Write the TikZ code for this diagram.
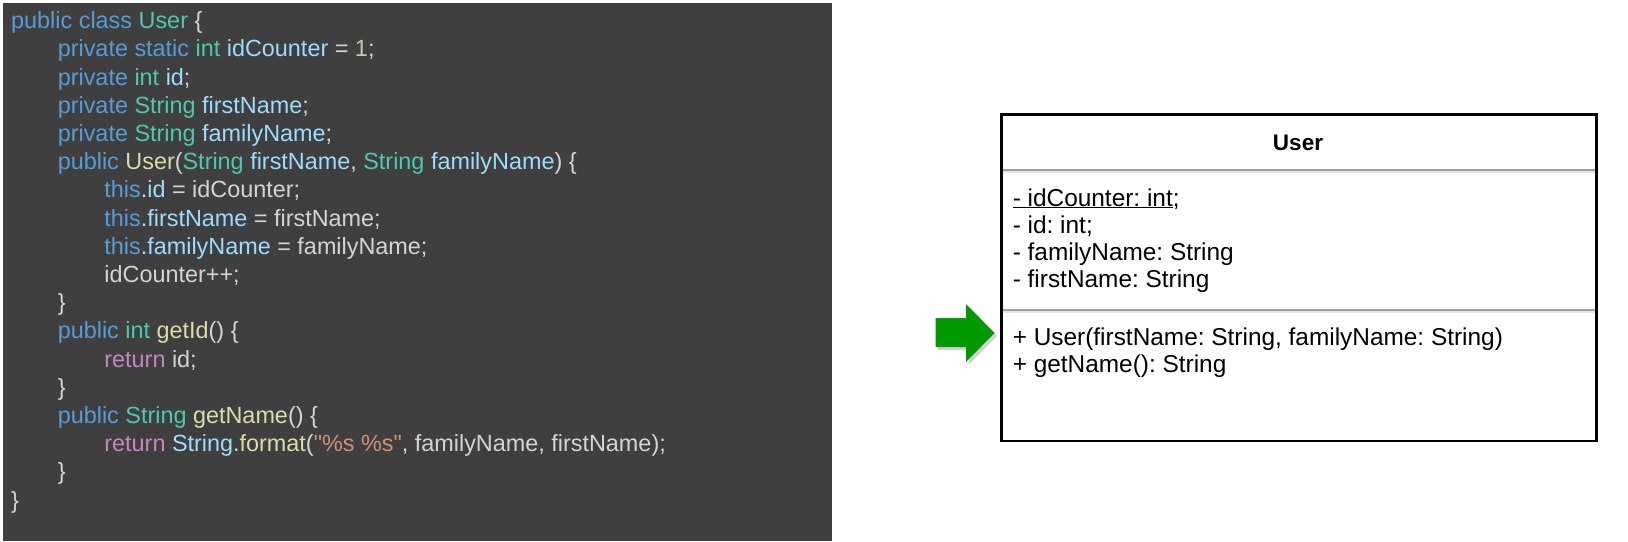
\documentclass[tikz,border=0pt]{standalone}
\usepackage{fontspec}
\setmainfont{Liberation Sans}[Ligatures=TeXOff]
\frenchspacing
\usetikzlibrary{calc}
\definecolor{codebg}{HTML}{3F3F3F}
\definecolor{ckw}{HTML}{569CD6}
\definecolor{cty}{HTML}{4EC9B0}
\definecolor{cva}{HTML}{9CDCFE}
\definecolor{cfn}{HTML}{DCDCAA}
\definecolor{cnu}{HTML}{B5CEA8}
\definecolor{crt}{HTML}{C586C0}
\definecolor{cst}{HTML}{CE9178}
\definecolor{ctxt}{HTML}{D4D4D4}
\definecolor{arrowgreen}{HTML}{009900}
\definecolor{divgray}{HTML}{A0A0A0}
\definecolor{divlight}{HTML}{E4E4E4}
\newcommand\cKw[1]{\textcolor{ckw}{#1}}
\newcommand\cTy[1]{\textcolor{cty}{#1}}
\newcommand\cVa[1]{\textcolor{cva}{#1}}
\newcommand\cFn[1]{\textcolor{cfn}{#1}}
\newcommand\cNu[1]{\textcolor{cnu}{#1}}
\newcommand\cRt[1]{\textcolor{crt}{#1}}
\newcommand\cSt[1]{\textcolor{cst}{#1}}
\tikzset{
  codepanel/.style={fill=codebg, inner sep=0pt, outer sep=0pt, minimum width=829pt, minimum height=538pt},
  codeline/.style={anchor=base west, inner sep=0pt, outer sep=0pt, text=ctxt, font=\fontsize{23.4}{28}\selectfont},
  umlbox/.style={draw=black, line width=2.8pt, fill=white, inner sep=0pt, minimum width=595.2pt, minimum height=326.6pt},
  umlhead/.style={anchor=base, inner sep=0pt, font=\fontsize{22.5}{27}\selectfont\bfseries},
  umltext/.style={anchor=base west, inner sep=0pt, font=\fontsize{24.4}{27}\selectfont},
  divline/.style={draw=divgray, line width=2pt},
  divshade/.style={draw=divlight, line width=2.5pt},
  bigarrow/.style={fill=arrowgreen},
  arrowshadow/.style={fill=black, opacity=0.18}
}
\begin{document}
\begin{tikzpicture}[x=1pt, y=-1pt]
\useasboundingbox (0,0) rectangle (1628,541);
\fill[white] (0,0) rectangle (1628,541);
% code panel
\node[codepanel] (code) at (417.5,272) {};
\def\la{11.2}
\def\lb{57.8}
\def\lc{104.4}
\node[codeline] (l0)  at (\la,28.7)  {\cKw{public class} \cTy{User} \{};
\node[codeline] (l1)  at (\lb,56.9)  {\cKw{private static} \cTy{int} \cVa{idCounter} = \cNu{1};};
\node[codeline] (l2)  at (\lb,85.1)  {\cKw{private} \cTy{int} \cVa{id};};
\node[codeline] (l3)  at (\lb,113.3) {\cKw{private} \cTy{String} \cVa{firstName};};
\node[codeline] (l4)  at (\lb,141.5) {\cKw{private} \cTy{String} \cVa{familyName};};
\node[codeline] (l5)  at (\lb,169.7) {\cKw{public} \cFn{User}(\cTy{String} \cVa{firstName}, \cTy{String} \cVa{familyName}) \{};
\node[codeline] (l6)  at (\lc,197.9) {\cKw{this}.\cVa{id} = idCounter;};
\node[codeline] (l7)  at (\lc,226.1) {\cKw{this}.\cVa{firstName} = firstName;};
\node[codeline] (l8)  at (\lc,254.3) {\cKw{this}.\cVa{familyName} = familyName;};
\node[codeline] (l9)  at (\lc,282.5) {idCounter++;};
\node[codeline] (l10) at (\lb,310.7) {\}};
\node[codeline] (l11) at (\lb,338.9) {\cKw{public} \cTy{int} \cFn{getId}() \{};
\node[codeline] (l12) at (\lc,367.1) {\cRt{return} id;};
\node[codeline] (l13) at (\lb,395.3) {\}};
\node[codeline] (l14) at (\lb,423.5) {\cKw{public} \cTy{String} \cFn{getName}() \{};
\node[codeline] (l15) at (\lc,451.7) {\cRt{return} \cVa{String}.\cFn{format}(\cSt{"\%s \%s"}, familyName, firstName);};
\node[codeline] (l16) at (\lb,479.9) {\}};
\node[codeline] (l17) at (\la,508.1) {\}};
% green arrow
\fill[arrowshadow] (938,321) -- (968.5,321) -- (968.5,307) -- (997,336) -- (968.5,365) -- (968.5,350) -- (938,350) -- cycle;
\fill[bigarrow] (935.5,318) -- (966,318) -- (966,304) -- (994.5,333) -- (966,362) -- (966,347) -- (935.5,347) -- cycle;
% UML class box
\node[umlbox] (box) at (1299,277.7) {};
\draw[divshade] (1002.8,172.2) -- (1595.2,172.2);
\draw[divline] (1002.8,170) -- (1595.2,170);
\draw[divshade] (1002.8,311.9) -- (1595.2,311.9);
\draw[divline] (1002.8,309.7) -- (1595.2,309.7);
\node[umlhead] (name) at (1298,150) {User};
\node[umltext] (a1) at (1012.6,206)   {\underline{- idCounter: int};};
\node[umltext] (a2) at (1012.6,233.3) {- id: int;};
\node[umltext] (a3) at (1012.6,260.6) {- familyName: String};
\node[umltext] (a4) at (1012.6,287.9) {- firstName: String};
\node[umltext] (m1) at (1012.6,345)   {+ User(firstName: String, familyName: String)};
\node[umltext] (m2) at (1012.6,372.3) {+ getName(): String};
\end{tikzpicture}
\end{document}
